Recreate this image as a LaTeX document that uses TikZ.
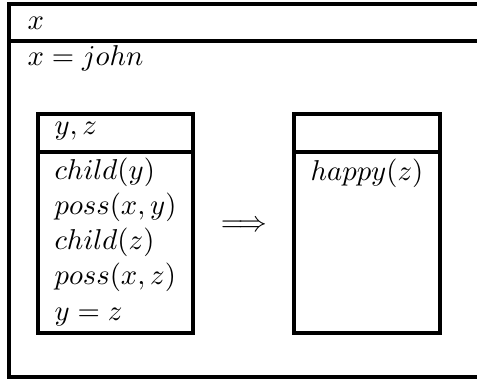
\documentclass[tikz,border=0pt]{standalone}
\begin{document}
\begin{tikzpicture}[x=0.3484pt,y=-0.3484pt,
  box/.style={line width=1.1pt},
  txt/.style={anchor=base west, inner sep=0pt, font=\fontsize{10}{12}\selectfont},
  ctxt/.style={anchor=base, inner sep=0pt, font=\fontsize{10}{12}\selectfont}]
\useasboundingbox (0,0) rectangle (477,379);
% outer DRS
\draw[box] (477,4) -- (9,4) -- (9,377) -- (477,377);
\draw[box] (9,41) -- (477,41);
\node[txt] (xhead) at (27,30) {$x$};
\node[txt] (xjohn) at (27,66) {$x = john$};
% left sub-DRS
\draw[box] (38,114) rectangle (193,333);
\draw[box] (38,152) -- (193,152);
\node[txt] (lhead) at (54,135) {$y, z$};
\node[txt] (c1) at (54,180) {$child(y)$};
\node[txt] (c2) at (54,215) {$poss(x,y)$};
\node[txt] (c3) at (54,250) {$child(z)$};
\node[txt] (c4) at (54,285) {$poss(x,z)$};
\node[txt] (c5) at (54,321) {$y = z$};
% implication
\node[inner sep=0pt, font=\fontsize{10}{12}\selectfont] (impl) at (244,226) {$\Longrightarrow$};
% right sub-DRS
\draw[box] (294,114) rectangle (440,333);
\draw[box] (294,152) -- (440,152);
\node[ctxt] (r1) at (367,181) {$happy(z)$};
\end{tikzpicture}
\end{document}
